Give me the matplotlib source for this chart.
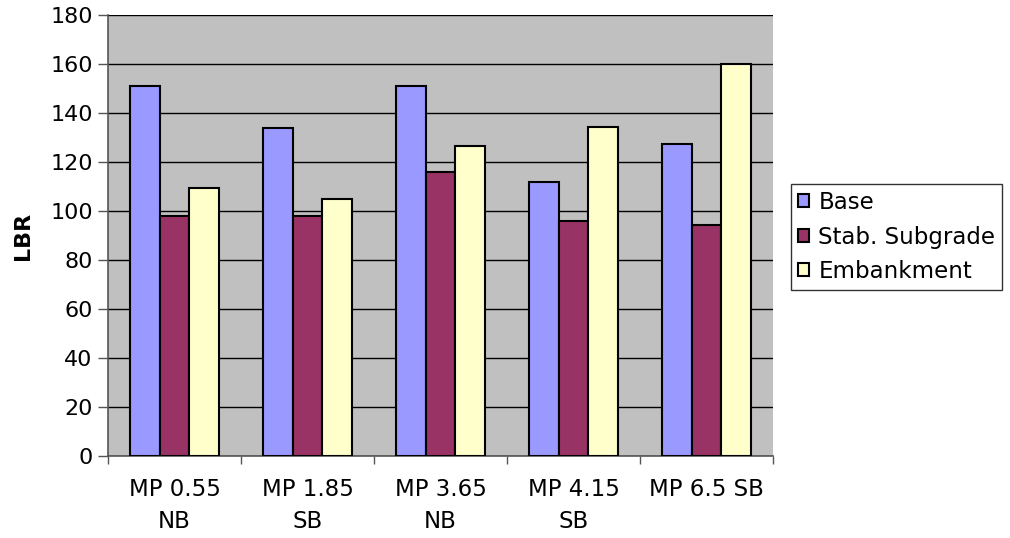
import numpy as np
import matplotlib
matplotlib.use('Agg')
import matplotlib.pyplot as plt

categories = ['MP 0.55\nNB', 'MP 1.85\nSB', 'MP 3.65\nNB', 'MP 4.15\nSB', 'MP 6.5 SB']
series_names = ['Base', 'Stab. Subgrade', 'Embankment']
base = [151, 134, 151, 112, 127.5]
stab_subgrade = [98, 98, 116, 96, 94.5]
embankment = [109.5, 105, 126.5, 134.5, 160]
colors = ['#9999FF', '#993366', '#FFFFCC']

plt.rcParams['font.family'] = 'DejaVu Sans'
fs = 16

fig = plt.figure(figsize=(10.1, 5.38), dpi=100)
ax = fig.add_axes([0.1069, 0.1524, 0.6584, 0.8188])

x = np.arange(len(categories))
w = 1 / 4.5
for i, (vals, name) in enumerate(zip([base, stab_subgrade, embankment], series_names)):
    ax.bar(x + (i - 1) * w, vals, width=w, color=colors[i], edgecolor='black',
           linewidth=1.5, label=name, zorder=3)

ax.set_facecolor('#C0C0C0')
ax.set_xlim(-0.5, len(categories) - 0.5)
ax.set_ylim(0, 180)
ax.set_yticks(range(0, 181, 20))
ax.yaxis.grid(True, color='black', linewidth=1, zorder=1)
ax.set_axisbelow(True)

ax.set_xticks(x)
ax.set_xticklabels(categories, fontsize=16.5, linespacing=1.5)
ax.set_xticks(np.arange(-0.5, len(categories), 1), minor=True)
ax.tick_params(axis='x', which='major', length=0, pad=16)
ax.tick_params(axis='x', which='minor', length=6, width=1, color='#555555')
ax.tick_params(axis='y', length=7, width=1, color='#555555', labelsize=fs, pad=4)

for side in ['top', 'right']:
    ax.spines[side].set_visible(False)
for side in ['left', 'bottom']:
    ax.spines[side].set_color('#555555')
    ax.spines[side].set_linewidth(1.2)

ax.set_ylabel('LBR', fontsize=fs, fontweight='bold')
ax.yaxis.set_label_coords(-0.113, 0.5)

leg = ax.legend(loc='upper left', bbox_to_anchor=(1.027, 0.617), fontsize=16.5,
                frameon=True, fancybox=False, edgecolor='black', handlelength=0.5,
                handleheight=0.5, handletextpad=0.4, borderpad=0.3, labelspacing=0.5,
                borderaxespad=0)
leg.get_frame().set_linewidth(1)

fig.savefig('out.png', dpi=100)
